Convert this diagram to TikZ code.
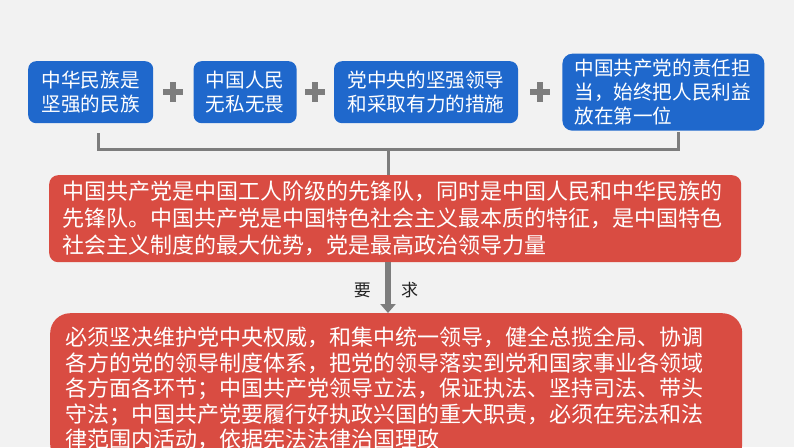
\documentclass[tikz,border=0pt]{standalone}
\usepackage{fontspec}
\newfontfamily\cjk{Noto Sans CJK SC}
\usetikzlibrary{arrows.meta,positioning,calc}
\definecolor{cBg}{RGB}{242,242,242}
\definecolor{cBlue}{RGB}{31,104,204}
\definecolor{cRed}{RGB}{217,76,66}
\definecolor{cGray}{RGB}{125,125,125}
\definecolor{cText}{RGB}{35,35,35}
\tikzset{
    fact/.style={rectangle, rounded corners=8pt, fill=cBlue, text=white,
        minimum height=62pt, align=center, inner sep=0pt,
        font=\cjk\fontsize{19.6}{23.5}\selectfont},
    stmt/.style={rectangle, fill=cRed, text=white, align=left,
        anchor=north west, minimum width=692pt,
        font=\cjk\fontsize{22}{27}\selectfont},
    plusbar/.style={cGray, line width=6pt},
    bracket/.style={cGray, line width=3pt},
    arr/.style={-{Triangle[length=9pt,width=15pt]}, cGray, line width=6pt},
    lbl/.style={font=\cjk\fontsize{17}{17}\selectfont, text=cText, inner sep=0pt},
}
\begin{document}
\begin{tikzpicture}[x=1pt, y=-1pt]

% ================================================================
%  CANVAS
% ================================================================
\fill[cBg] (0,0) rectangle (794,447);
\useasboundingbox (0,0) rectangle (794,447);
\clip (0,0) rectangle (794,447);

% ================================================================
%  TOP — four factors in a row
% ================================================================
\node[fact, anchor=north west, minimum width=125pt] (b1) at (28,61)
    {中华民族是\\坚强的民族};
\node[fact, right=40pt of b1, minimum width=103pt] (b2)
    {中国人民\\无私无畏};
\node[fact, right=37pt of b2, minimum width=184pt] (b3)
    {党中央的坚强领导\\和采取有力的措施};
\node[fact, right=44pt of b3, minimum height=77pt, rounded corners=10pt,
      align=left, text width=178pt, inner xsep=12pt,
      font=\cjk\fontsize{19.6}{24}\selectfont] (b4)
    {中国共产党的责任担\\当，始终把人民利益\\放在第一位};

% plus signs between the boxes
\path (b1.east) -- (b2.west) coordinate[midway] (p1);
\path (b2.east) -- (b3.west) coordinate[midway] (p2);
\path (b3.east) -- (b4.west) coordinate[midway] (p3);
\foreach \p in {p1,p2,p3}{
    \draw[plusbar] ($(\p)+(-10,0)$) -- ($(\p)+(10,0)$);
    \draw[plusbar] ($(\p)+(0,-10)$) -- ($(\p)+(0,10)$);
}

% ================================================================
%  MIDDLE — statement
% ================================================================
\node[stmt, rounded corners=9pt, minimum height=87pt,
      inner xsep=13pt, text width=666pt] (r1) at (49,175)
    {中国共产党是中国工人阶级的先锋队，同时是中国人民和中华民族的\\
     先锋队。中国共产党是中国特色社会主义最本质的特征，是中国特色\\
     社会主义制度的最大优势，党是最高政治领导力量};

% bracket joining the factors
\coordinate (axis) at (388,0);
\coordinate (brL) at (98,133);
\coordinate (brR) at (678,132);
\coordinate (bar) at (axis |- 0,149);
\draw[bracket] (brL) -- (brL |- bar) -- (brR |- bar) -- (brR);
\draw[bracket] (bar) -- (bar |- r1.north);

% ================================================================
%  BOTTOM — requirements
% ================================================================
\node[stmt, rounded corners=20pt, inner xsep=15pt, inner ysep=14pt,
      text width=662pt, font=\cjk\fontsize{22}{25.5}\selectfont] (r2) at (50,313)
    {必须坚决维护党中央权威，和集中统一领导，健全总揽全局、协调\\
     各方的党的领导制度体系，把党的领导落实到党和国家事业各领域\\
     各方面各环节；中国共产党领导立法，保证执法、坚持司法、带头\\
     守法；中国共产党要履行好执政兴国的重大职责，必须在宪法和法\\
     律范围内活动，依据宪法法律治国理政};

% arrow r1 -> r2
\draw[arr] (axis |- r1.south) -- (axis |- r2.north)
    coordinate[pos=0.55] (mid);
\node[lbl, left=17pt of mid] (yao) {要};
\node[lbl, right=13pt of mid] (qiu) {求};

\end{tikzpicture}
\end{document}
